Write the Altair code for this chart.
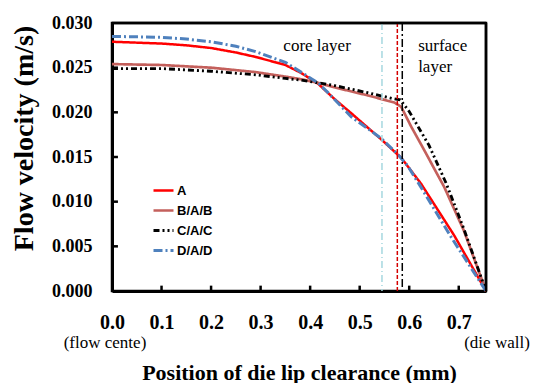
import altair as alt
import pandas as pd

# ---- data ----
series_names = ["A", "B/A/B", "C/A/C", "D/A/D"]

pos_A = [0.0, 0.10, 0.15, 0.20, 0.25, 0.29, 0.35, 0.382, 0.416, 0.449, 0.483, 0.543, 0.584, 0.624, 0.691, 0.755]
vel_A = [0.0279, 0.0277, 0.0275, 0.0272, 0.0267, 0.0262, 0.0253, 0.0244, 0.0232, 0.0215, 0.0199, 0.0170, 0.0149, 0.0120, 0.0062, 0.0]

pos_B = [0.0, 0.10, 0.20, 0.29, 0.35, 0.382, 0.416, 0.449, 0.516, 0.570, 0.584, 0.604, 0.630, 0.671, 0.710, 0.755]
vel_B = [0.0254, 0.0253, 0.0250, 0.0245, 0.0240, 0.0237, 0.0233, 0.0228, 0.0219, 0.0211, 0.0206, 0.0184, 0.0158, 0.0116, 0.0068, 0.0]

pos_C = [0.0, 0.10, 0.20, 0.29, 0.35, 0.382, 0.416, 0.449, 0.516, 0.570, 0.582, 0.600, 0.620, 0.640, 0.675, 0.710, 0.755]
vel_C = [0.0249, 0.0249, 0.0246, 0.0242, 0.0238, 0.0236, 0.0233, 0.0230, 0.0222, 0.0215, 0.0214, 0.0201, 0.0182, 0.0163, 0.0120, 0.0070, 0.0]

pos_D = [0.0, 0.10, 0.15, 0.20, 0.25, 0.29, 0.35, 0.416, 0.436, 0.483, 0.516, 0.543, 0.577, 0.597, 0.624, 0.685, 0.755]
vel_D = [0.0285, 0.0284, 0.0282, 0.0279, 0.0274, 0.0268, 0.0256, 0.0233, 0.0222, 0.0195, 0.0182, 0.0171, 0.0153, 0.0140, 0.0116, 0.0060, 0.0]

series_colors = ["#ff0000", "#c4605c", "#000000", "#4f81bd"]
series_dashes = [[1, 0], [1, 0], [6, 3, 2, 3, 2, 3], [9, 3, 2, 3]]
series_widths = [2.5, 3, 2, 3]

# boundary lines between core and surface layers
vline_pos = [0.545, 0.576, 0.586]

x_ticks = [0.0, 0.1, 0.2, 0.3, 0.4, 0.5, 0.6, 0.7]
y_ticks = [0.0, 0.005, 0.010, 0.015, 0.020, 0.025, 0.030]
x_max = 0.755

notes_text = ["core layer", "surface", "layer"]
notes_pos = [0.414, 0.618, 0.618]
notes_vel = [0.0274, 0.0274, 0.0251]

ends_text = ["(flow cente)", "(die wall)"]
ends_pos = [0.0, 0.755]
ends_vel = [-0.0058, -0.0058]

# ---- build tables ----
frames = []
for name, xs, vs in zip(series_names, [pos_A, pos_B, pos_C, pos_D], [vel_A, vel_B, vel_C, vel_D]):
    frames.append(pd.DataFrame({"series": name, "pos": xs, "vel": vs, "order": list(range(len(xs)))}))
df = pd.concat(frames, ignore_index=True)

serif = "Liberation Serif"

x_scale = alt.Scale(domain=[0, x_max], nice=False, zero=False)
y_scale = alt.Scale(domain=[y_ticks[0], y_ticks[-1]], nice=False)

x_axis = alt.Axis(
    values=x_ticks, format=".1f", grid=False, ticks=False, labelFlush=False,
    labelFont=serif, labelFontWeight="bold", labelFontSize=20, labelColor="black",
    labelPadding=21, domainColor="black", domainWidth=3,
    title="Position of die lip clearance (mm)", titleFont=serif, titleFontSize=22,
    titleFontWeight="bold", titleColor="black", titleY=88, titleBaseline="alphabetic",
)
y_axis = alt.Axis(
    values=y_ticks, format=".3f", grid=False, ticks=False, labelFlush=False,
    labelFont=serif, labelFontWeight="bold", labelFontSize=18, labelColor="black",
    labelPadding=20, domainColor="black", domainWidth=3,
    title="Flow velocity (m/s)", titleFont=serif, titleFontSize=28,
    titleFontWeight="bold", titleColor="black", titleX=-88, titleY=115,
    titleAlign="center", titleBaseline="middle", titleAngle=-90,
)

legend_kw = dict(orient="none", legendX=40, legendY=156, title=None,
                 symbolType="stroke", symbolSize=400, symbolStrokeWidth=2.5,
                 labelFont="Liberation Sans", labelFontWeight="bold",
                 labelFontSize=13, labelColor="black", labelOffset=2,
                 rowPadding=1, padding=0)

lines = alt.Chart(df).mark_line().encode(
    x=alt.X("pos:Q", scale=x_scale, axis=x_axis),
    y=alt.Y("vel:Q", scale=y_scale, axis=y_axis),
    color=alt.Color("series:N", scale=alt.Scale(domain=series_names, range=series_colors),
                    legend=alt.Legend(**legend_kw)),
    strokeDash=alt.StrokeDash("series:N", scale=alt.Scale(domain=series_names, range=series_dashes),
                              legend=alt.Legend(**legend_kw)),
    strokeWidth=alt.StrokeWidth("series:N", scale=alt.Scale(domain=series_names, range=series_widths),
                                legend=None),
    order="order:Q",
)

vdf = pd.DataFrame({"pos": vline_pos})
v_cyan = alt.Chart(vdf.iloc[[0]]).mark_rule(color="#a6d8df", strokeWidth=1.5, strokeDash=[7, 3, 1, 3]).encode(x="pos:Q")
v_red = alt.Chart(vdf.iloc[[1]]).mark_rule(color="#d40000", strokeWidth=1.5, strokeDash=[4, 2]).encode(x="pos:Q")
v_black = alt.Chart(vdf.iloc[[2]]).mark_rule(color="#000000", strokeWidth=1.5, strokeDash=[8, 3, 2, 3]).encode(x="pos:Q")

# plot frame: top and right edges at the scale limits
edge_df = pd.DataFrame({"x0": [x_ticks[0]], "x1": [x_max], "y0": [y_ticks[0]], "y1": [y_ticks[-1]]})
top_edge = alt.Chart(edge_df).mark_rule(color="#000000", strokeWidth=2.5).encode(y="y1:Q")
right_edge = alt.Chart(edge_df).mark_rule(color="#000000", strokeWidth=2.5).encode(x="x1:Q")

# inward tick marks (short rules from each axis into the plot)
tick_len_y = 0.0006   # tick length along y, in data units
tick_len_x = 0.012    # tick length along x, in data units
xt = alt.Chart(pd.DataFrame({"pos": x_ticks[1:], "y0": 0.0, "y1": tick_len_y})).mark_rule(
    color="#000000", strokeWidth=2.5).encode(x="pos:Q", y="y0:Q", y2="y1:Q")
yt = alt.Chart(pd.DataFrame({"vel": y_ticks[1:-1], "x0": 0.0, "x1": tick_len_x})).mark_rule(
    color="#000000", strokeWidth=2.5).encode(y="vel:Q", x="x0:Q", x2="x1:Q")

ndf = pd.DataFrame({"text": notes_text, "pos": notes_pos, "vel": notes_vel})
notes_c = alt.Chart(ndf.iloc[[0]]).mark_text(font=serif, fontSize=17, color="black", align="center", baseline="middle").encode(
    x="pos:Q", y="vel:Q", text="text:N")
notes_l = alt.Chart(ndf.iloc[[1, 2]]).mark_text(font=serif, fontSize=17, color="black", align="left", baseline="middle").encode(
    x="pos:Q", y="vel:Q", text="text:N")

edf = pd.DataFrame({"text": ends_text, "pos": ends_pos, "vel": ends_vel})
end_l = alt.Chart(edf.iloc[[0]]).mark_text(font=serif, fontSize=17, color="black", align="center", baseline="middle", dx=-7).encode(
    x="pos:Q", y="vel:Q", text="text:N")
end_r = alt.Chart(edf.iloc[[1]]).mark_text(font=serif, fontSize=17, color="black", align="center", baseline="middle", dx=11).encode(
    x="pos:Q", y="vel:Q", text="text:N")

chart = alt.layer(lines, v_cyan, v_red, v_black, top_edge, right_edge, xt, yt,
                  notes_c, notes_l, end_l, end_r).properties(
    width=374, height=268,
    padding={"left": 1, "top": 6, "right": 0, "bottom": 0},
).configure_view(stroke="black", strokeWidth=2.5)

chart.save("out.html", embed_options={"renderer": "svg", "actions": False})
